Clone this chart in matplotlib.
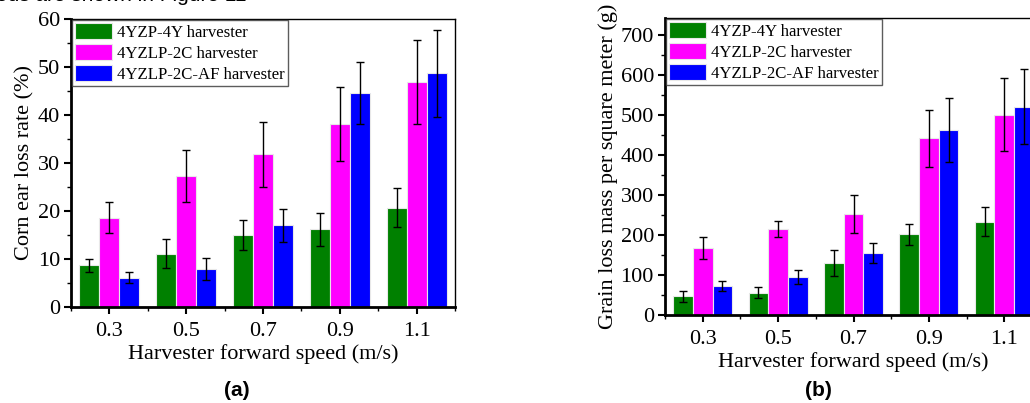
import matplotlib
matplotlib.use("Agg")
import matplotlib.pyplot as plt
import numpy as np
from matplotlib.ticker import MultipleLocator, FixedLocator

speeds = ["0.3", "0.5", "0.7", "0.9", "1.1"]
series = ["4YZP-4Y harvester", "4YZLP-2C harvester", "4YZLP-2C-AF harvester"]
colors = ["#008000", "#FF00FF", "#0000FF"]

# Panel (a): corn ear loss rate (%)
ear_4yzp = [8.7, 11.1, 15.0, 16.2, 20.7]
ear_4yzp_err = [1.4, 3.0, 3.2, 3.4, 4.1]
ear_2c = [18.6, 27.3, 31.8, 38.1, 46.9]
ear_2c_err = [3.2, 5.5, 6.7, 7.7, 8.7]
ear_af = [6.1, 8.0, 17.0, 44.6, 48.7]
ear_af_err = [1.2, 2.3, 3.4, 6.5, 9.1]

# Panel (b): grain loss mass per square meter (g)
grain_4yzp = [47, 56, 130, 202, 233]
grain_4yzp_err = [14, 13, 32, 26, 36]
grain_2c = [167, 215, 253, 442, 501]
grain_2c_err = [28, 21, 48, 71, 91]
grain_af = [73, 95, 155, 462, 521]
grain_af_err = [12, 17, 25, 80, 94]

plt.rcParams['font.family'] = ['Liberation Serif', 'DejaVu Serif']
plt.rcParams['mathtext.fontset'] = 'stix'

fig = plt.figure(figsize=(10.30, 4.03), dpi=100)

def draw(ax, vals, errs, ylim, ymajor, yminor, ylabel):
    x = np.arange(len(speeds))
    w = 0.26
    for i, (v, e, c, lab) in enumerate(zip(vals, errs, colors, series)):
        ax.bar(x + (i - 1) * w, v, width=w, color=c, edgecolor='#e8e8e8', linewidth=0.8,
               yerr=e, capsize=3, error_kw=dict(ecolor='black', elinewidth=1.0, capthick=1.0),
               label=lab, zorder=2)
    ax.set_xlim(-0.5, 4.5)
    ax.set_ylim(*ylim)
    ax.set_xticks(x)
    ax.set_xticklabels(speeds)
    ax.xaxis.set_minor_locator(FixedLocator(np.arange(-0.5, 4.6, 1.0)))
    ax.yaxis.set_major_locator(MultipleLocator(ymajor))
    ax.yaxis.set_minor_locator(MultipleLocator(yminor))
    ax.tick_params(axis='both', which='major', direction='out', length=5, width=1.5,
                   labelsize=16, pad=3)
    ax.tick_params(axis='both', which='minor', direction='out', length=3, width=1.0)
    ax.tick_params(axis='x', which='major', pad=6)
    for s in ['left', 'bottom']:
        ax.spines[s].set_linewidth(2.0)
    for s in ['top', 'right']:
        ax.spines[s].set_linewidth(1.0)
    ax.set_xlabel("Harvester forward speed (m/s)", fontsize=16, labelpad=2)
    ax.set_ylabel(ylabel, fontsize=16, labelpad=2)
    leg = ax.legend(loc='upper left', fontsize=12.1, frameon=True, fancybox=False,
                    borderaxespad=0.05, handlelength=2.2, handleheight=1.05,
                    handletextpad=0.3, labelspacing=0.2, borderpad=0.2)
    leg.get_frame().set_edgecolor('#333333')
    leg.get_frame().set_linewidth(1.0)

ax1 = fig.add_axes([71/1030, 1 - 307/403, (455 - 71)/1030, (307 - 19)/403])
draw(ax1, [ear_4yzp, ear_2c, ear_af], [ear_4yzp_err, ear_2c_err, ear_af_err],
     (0, 60), 10, 5, "Corn ear loss rate (%)")

ax2 = fig.add_axes([665/1030, 1 - 315/403, (1042 - 665)/1030, (315 - 18)/403])
draw(ax2, [grain_4yzp, grain_2c, grain_af], [grain_4yzp_err, grain_2c_err, grain_af_err],
     (0, 743), 100, 50, "Grain loss mass per square meter (g)")

fig.text(237/1030, 1 - 390/403, "(a)", fontsize=15, fontweight='bold',
         family='Liberation Sans', ha='center', va='center')
fig.text(818/1030, 1 - 390/403, "(b)", fontsize=15, fontweight='bold',
         family='Liberation Sans', ha='center', va='center')
fig.text(-4/1030, 1 - 1/403, "ods are shown in Figure 11", fontsize=15,
         family='Liberation Sans', ha='left', va='baseline')

fig.savefig("out.png", dpi=100)
